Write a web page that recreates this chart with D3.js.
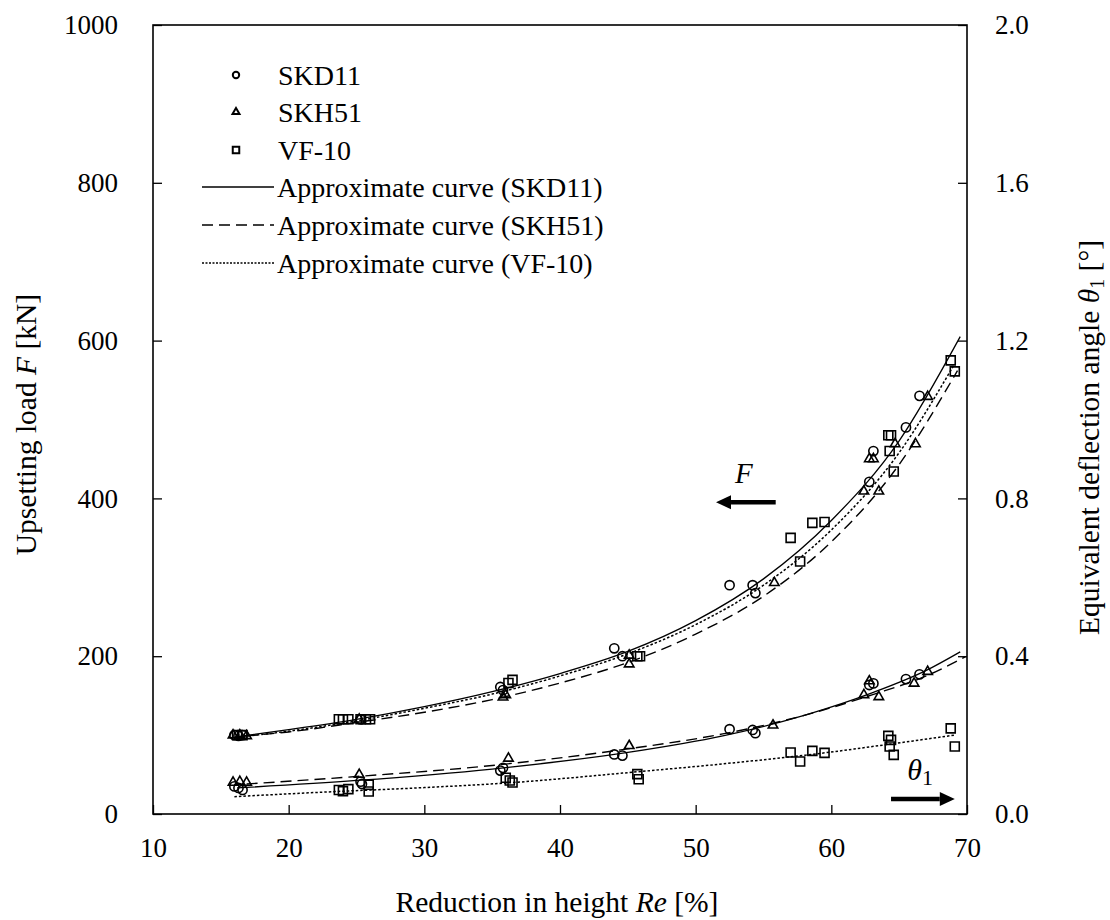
<!DOCTYPE html>
<html>
<head>
<meta charset="utf-8">
<script src="https://cdn.jsdelivr.net/npm/d3@7"></script>
<style>
  html, body { margin: 0; padding: 0; background: #fff; }
  svg { display: block; }
  svg text { font-family: "Liberation Serif", "Tinos", "Times New Roman", "DejaVu Serif", serif; fill: #000; }
</style>
</head>
<body>
<svg id="chart" width="1110" height="920"></svg>
<script>
// ---------- axis ticks ----------
const reTicks = [10, 20, 30, 40, 50, 60, 70];
const loadTicks = [0, 200, 400, 600, 800, 1000];
const angleTicks = [0, 0.4, 0.8, 1.2, 1.6, 2.0];

// ---------- measured points: SKD11 (circles) ----------
const skd11LoadRe = [16.0, 16.3, 16.6, 25.3, 35.6, 35.8, 44.0, 44.6, 52.5, 54.2, 54.4, 62.8, 63.1, 65.5, 66.5];
const skd11Load   = [100, 99, 100, 120, 161, 157, 210, 200, 290, 290, 280, 421, 460, 490, 530];
const skd11AngleRe = [16.0, 16.3, 16.6, 25.3, 25.4, 35.6, 35.8, 44.0, 44.6, 52.5, 54.2, 54.4, 62.8, 63.1, 65.5, 66.5];
const skd11Angle   = [0.070, 0.066, 0.061, 0.082, 0.076, 0.110, 0.117, 0.151, 0.148, 0.215, 0.213, 0.205, 0.327, 0.331, 0.342, 0.354];

// ---------- measured points: SKH51 (triangles) ----------
const skh51LoadRe = [15.9, 16.4, 16.9, 25.2, 35.8, 36.0, 45.1, 45.1, 55.8, 62.4, 62.8, 63.1, 63.5, 64.7, 66.2, 67.1];
const skh51Load   = [100, 100, 99, 120, 148, 151, 201, 190, 293, 409, 450, 450, 409, 469, 469, 529];
const skh51AngleRe = [15.9, 16.4, 16.9, 25.2, 36.2, 45.1, 55.7, 62.4, 62.8, 63.5, 66.1, 67.1];
const skh51Angle   = [0.080, 0.082, 0.080, 0.100, 0.141, 0.173, 0.225, 0.302, 0.337, 0.297, 0.331, 0.361];

// ---------- measured points: VF-10 (squares) ----------
const vf10LoadRe = [16.2, 16.6, 23.7, 24.0, 24.4, 25.3, 25.7, 26.0, 36.2, 36.5, 45.7, 45.9, 57.0, 57.7, 58.6, 59.5, 64.2, 64.4, 64.3, 64.6, 68.8, 69.1];
const vf10Load   = [100, 100, 120, 120, 120, 120, 120, 120, 166, 170, 200, 200, 350, 320, 369, 370, 480, 480, 460, 434, 575, 561];
const vf10AngleRe = [23.7, 24.0, 24.4, 25.9, 25.9, 36.0, 36.3, 36.5, 45.7, 45.8, 57.0, 57.7, 58.6, 59.5, 64.2, 64.4, 64.3, 64.6, 68.8, 69.1];
const vf10Angle   = [0.061, 0.058, 0.063, 0.074, 0.057, 0.092, 0.085, 0.080, 0.101, 0.088, 0.156, 0.133, 0.160, 0.155, 0.198, 0.188, 0.171, 0.150, 0.217, 0.171];

// ---------- approximate curves ----------
const fitSkd11LoadRe = [16.2, 20, 25, 30, 35, 40, 45, 50, 55, 60, 65, 69.5];
const fitSkd11Load   = [98, 107, 120, 136, 155, 178, 206, 245, 298, 372, 473, 605];
const fitSkh51LoadRe = [16.9, 20, 25, 30, 35, 40, 45, 50, 55, 60, 65, 69.3];
const fitSkh51Load   = [99, 104, 116, 129, 145, 166, 192, 228, 276, 345, 443, 562];
const fitVf10LoadRe  = [16.0, 20, 25, 30, 35, 40, 45, 50, 55, 60, 65, 69.0];
const fitVf10Load    = [97, 105, 118, 134, 152, 175, 203, 240, 290, 360, 458, 568];

const fitSkd11AngleRe = [16.2, 25, 35, 45, 52, 58, 63, 67, 69.5];
const fitSkd11Angle   = [0.066, 0.085, 0.114, 0.156, 0.198, 0.250, 0.307, 0.364, 0.411];
const fitSkh51AngleRe = [16.9, 25, 35, 45, 52, 58, 63, 67, 69.9];
const fitSkh51Angle   = [0.076, 0.095, 0.123, 0.165, 0.203, 0.250, 0.302, 0.350, 0.399];
const fitVf10AngleRe  = [16.0, 22.3, 30, 35.8, 45.7, 52, 59.5, 64.3, 69.1];
const fitVf10Angle    = [0.044, 0.055, 0.067, 0.078, 0.107, 0.127, 0.155, 0.177, 0.200];

// ---------- legend ----------
const legendMarkerLabels = ["SKD11", "SKH51", "VF-10"];
const legendCurveLabels = ["Approximate curve (SKD11)", "Approximate curve (SKH51)", "Approximate curve (VF-10)"];

// ---------- layout ----------
const svg = d3.select("#chart");
const L = 153, R = 967, T = 25, B = 814;
const FONT = 27, LEGFONT = 28, TITLEFONT = 29.5;
const FAMILY = "'Liberation Serif','Tinos','Times New Roman','DejaVu Serif',serif";

const x = d3.scaleLinear().domain([10, 70]).range([L, R]);
const yL = d3.scaleLinear().domain([0, 1000]).range([B, T]);
const yR = d3.scaleLinear().domain([0, 2.0]).range([B, T]);

const zip = (a, b) => a.map((v, i) => [v, b[i]]);

// axes
const gx = svg.append("g").attr("transform", `translate(0,${B})`)
  .call(d3.axisBottom(x).tickValues(reTicks).tickSizeInner(-9).tickSizeOuter(0).tickPadding(24).tickFormat(d3.format("d")));
const gl = svg.append("g").attr("transform", `translate(${L},0)`)
  .call(d3.axisLeft(yL).tickValues(loadTicks).tickSizeInner(-9).tickSizeOuter(0).tickPadding(35).tickFormat(d3.format("d")));
const gr = svg.append("g").attr("transform", `translate(${R},0)`)
  .call(d3.axisRight(yR).tickValues(angleTicks).tickSizeInner(-9).tickSizeOuter(0).tickPadding(28).tickFormat(d3.format(".1f")));
[gx, gl, gr].forEach(g => {
  g.attr("font-family", FAMILY).attr("font-size", FONT);
  g.select(".domain").remove();
  g.selectAll(".tick line").attr("stroke", "#000").attr("stroke-width", 1.3);
  g.selectAll(".tick text").attr("font-size", FONT).attr("font-family", FAMILY).attr("fill", "#000");
});

// frame
svg.append("rect").attr("x", L).attr("y", T).attr("width", R - L).attr("height", B - T)
  .attr("fill", "none").attr("stroke", "#000").attr("stroke-width", 1.6);

// curves
const styles = {
  skd11: { dash: null, w: 1.3 },
  skh51: { dash: "11,6", w: 1.4 },
  vf10: { dash: "2.5,2", w: 1.5 }
};
function drawCurve(reArr, vArr, yScale, st) {
  const line = d3.line().x(d => x(d[0])).y(d => yScale(d[1])).curve(d3.curveMonotoneX);
  svg.append("path").datum(zip(reArr, vArr)).attr("d", line)
    .attr("fill", "none").attr("stroke", "#000").attr("stroke-width", st.w)
    .attr("stroke-dasharray", st.dash);
}
drawCurve(fitSkd11LoadRe, fitSkd11Load, yL, styles.skd11);
drawCurve(fitSkh51LoadRe, fitSkh51Load, yL, styles.skh51);
drawCurve(fitVf10LoadRe, fitVf10Load, yL, styles.vf10);
drawCurve(fitSkd11AngleRe, fitSkd11Angle, yR, styles.skd11);
drawCurve(fitSkh51AngleRe, fitSkh51Angle, yR, styles.skh51);
drawCurve(fitVf10AngleRe, fitVf10Angle, yR, styles.vf10);

// markers
const sym = {
  circle: d3.symbol().type(d3.symbolCircle).size(Math.PI * 4.6 * 4.6),
  triangle: d3.symbol().type(d3.symbolTriangle).size(Math.sqrt(3) / 4 * 9.5 * 9.5),
  square: d3.symbol().type(d3.symbolSquare).size(9 * 9)
};
function drawPoints(reArr, vArr, yScale, shape) {
  svg.append("g").selectAll("path").data(zip(reArr, vArr)).join("path")
    .attr("d", sym[shape]())
    .attr("transform", d => `translate(${x(d[0])},${yScale(d[1])})`)
    .attr("fill", "none").attr("stroke", "#000").attr("stroke-width", 1.6);
}
drawPoints(skd11LoadRe, skd11Load, yL, "circle");
drawPoints(skd11AngleRe, skd11Angle, yR, "circle");
drawPoints(skh51LoadRe, skh51Load, yL, "triangle");
drawPoints(skh51AngleRe, skh51Angle, yR, "triangle");
drawPoints(vf10LoadRe, vf10Load, yL, "square");
drawPoints(vf10AngleRe, vf10Angle, yR, "square");

// legend
const legSym = {
  circle: d3.symbol().type(d3.symbolCircle).size(Math.PI * 3.2 * 3.2),
  triangle: d3.symbol().type(d3.symbolTriangle).size(Math.sqrt(3) / 4 * 7 * 7),
  square: d3.symbol().type(d3.symbolSquare).size(6.5 * 6.5)
};
const legShapes = ["circle", "triangle", "square"];
const legRowY = [75, 112, 150, 187, 225, 263];
legendMarkerLabels.forEach((lab, i) => {
  svg.append("path").attr("d", legSym[legShapes[i]]())
    .attr("transform", `translate(236,${legRowY[i]})`)
    .attr("fill", "none").attr("stroke", "#000").attr("stroke-width", 2);
  svg.append("text").attr("x", 278).attr("y", legRowY[i]).attr("dy", "0.35em")
    .attr("font-family", FAMILY).attr("font-size", LEGFONT).text(lab);
});
const legStyles = [styles.skd11, styles.skh51, { dash: "2,1.5", w: 1.3 }];
legendCurveLabels.forEach((lab, i) => {
  const yy = legRowY[i + 3];
  svg.append("line").attr("x1", 202).attr("x2", 274).attr("y1", yy).attr("y2", yy)
    .attr("stroke", "#000").attr("stroke-width", legStyles[i].w).attr("stroke-dasharray", legStyles[i].dash);
  svg.append("text").attr("x", 277).attr("y", yy).attr("dy", "0.35em")
    .attr("font-family", FAMILY).attr("font-size", LEGFONT).text(lab);
});

// axis titles
const xt = svg.append("text").attr("x", (L + R) / 2 - 3).attr("y", 912).attr("text-anchor", "middle")
  .attr("font-family", FAMILY).attr("font-size", TITLEFONT);
xt.append("tspan").text("Reduction in height ");
xt.append("tspan").attr("font-style", "italic").text("Re");
xt.append("tspan").text(" [%]");

const ylt = svg.append("text").attr("transform", `translate(36,${(T + B) / 2 + 5}) rotate(-90)`)
  .attr("text-anchor", "middle").attr("font-family", FAMILY).attr("font-size", TITLEFONT);
ylt.append("tspan").text("Upsetting load ");
ylt.append("tspan").attr("font-style", "italic").text("F");
ylt.append("tspan").text(" [kN]");

const yrt = svg.append("text").attr("transform", `translate(1099,${(T + B) / 2 + 18}) rotate(-90)`)
  .attr("text-anchor", "middle").attr("font-family", FAMILY).attr("font-size", TITLEFONT);
yrt.append("tspan").text("Equivalent deflection angle ");
yrt.append("tspan").attr("font-style", "italic").text("θ");
yrt.append("tspan").attr("font-size", 20).attr("dy", 5).text("1");
yrt.append("tspan").attr("dy", -5).text(" [°]");

// annotations: F arrow (left axis) and θ1 arrow (right axis)
function arrow(re0, re1, yPix) {
  const x0 = x(re0), x1 = x(re1);
  const dir = Math.sign(x1 - x0);
  const headLen = 15, headHalf = 7;
  svg.append("line").attr("x1", x0).attr("x2", x1 - dir * headLen).attr("y1", yPix).attr("y2", yPix)
    .attr("stroke", "#000").attr("stroke-width", 4.5);
  svg.append("path")
    .attr("d", `M${x1},${yPix} L${x1 - dir * headLen},${yPix - headHalf} L${x1 - dir * headLen},${yPix + headHalf} Z`)
    .attr("fill", "#000");
}
arrow(55.9, 51.5, yL(395));
svg.append("text").attr("x", x(52.9)).attr("y", yL(419)).attr("font-family", FAMILY).attr("font-size", 29)
  .attr("font-style", "italic").text("F");

arrow(64.4, 69.1, yR(0.038));
const tl = svg.append("text").attr("x", x(65.6)).attr("y", yR(0.086)).attr("font-family", FAMILY)
  .attr("font-size", 30).attr("font-style", "italic");
tl.append("tspan").text("θ");
tl.append("tspan").attr("font-style", "normal").attr("font-size", 22).attr("dy", 5).text("1");
</script>
</body>
</html>
